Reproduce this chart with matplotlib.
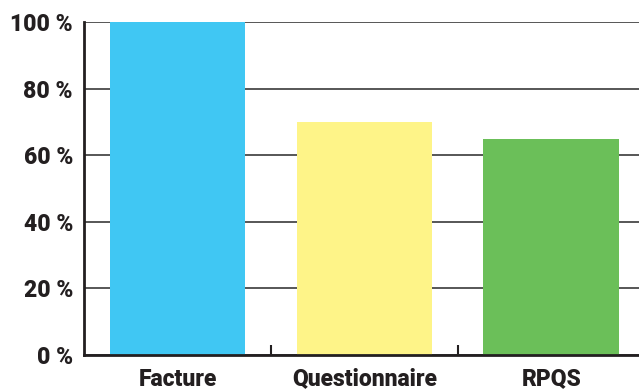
import matplotlib.pyplot as plt
from matplotlib.ticker import FixedLocator

categories = ['Facture', 'Questionnaire', 'RPQS']
values = [100, 70, 65]
colors = ['#40c7f3', '#fef488', '#6bbf59']
yticks = [0, 20, 40, 60, 80, 100]

plt.rcParams['font.family'] = ['Roboto', 'DejaVu Sans']

fig = plt.figure(figsize=(6.39, 3.89), dpi=100)
ax = fig.add_axes([0.1315, 0.0874, 0.8685, 0.856])

x = list(range(len(categories)))
ax.bar(x, values, width=0.725, color=colors, zorder=3)

ax.set_xlim(-0.5, 2.47)
ax.set_ylim(0, 100)

# y axis: percent labels with horizontal grid
ax.set_yticks(yticks)
ax.set_yticklabels([f'{v} %' for v in yticks], fontsize=16.5, fontweight='black', color='#231f20')
ax.yaxis.grid(True, color='#3a3a3a', linewidth=1.2, zorder=0)
ax.tick_params(axis='y', length=0, pad=8)

# x axis: labels under bars, separator ticks between categories
ax.set_xticks(x)
ax.set_xticklabels(categories, fontsize=16.5, fontweight='black', color='#231f20')
ax.tick_params(axis='x', length=0, pad=9)
ax.xaxis.set_minor_locator(FixedLocator([0.5, 1.5]))
ax.tick_params(axis='x', which='minor', direction='in', length=7, width=1.5, color='#231f20')

for side in ['top', 'right']:
    ax.spines[side].set_visible(False)
for side in ['left', 'bottom']:
    ax.spines[side].set_linewidth(2)
    ax.spines[side].set_color('#231f20')
    ax.spines[side].set_zorder(4)

fig.savefig('out.png', dpi=100)
